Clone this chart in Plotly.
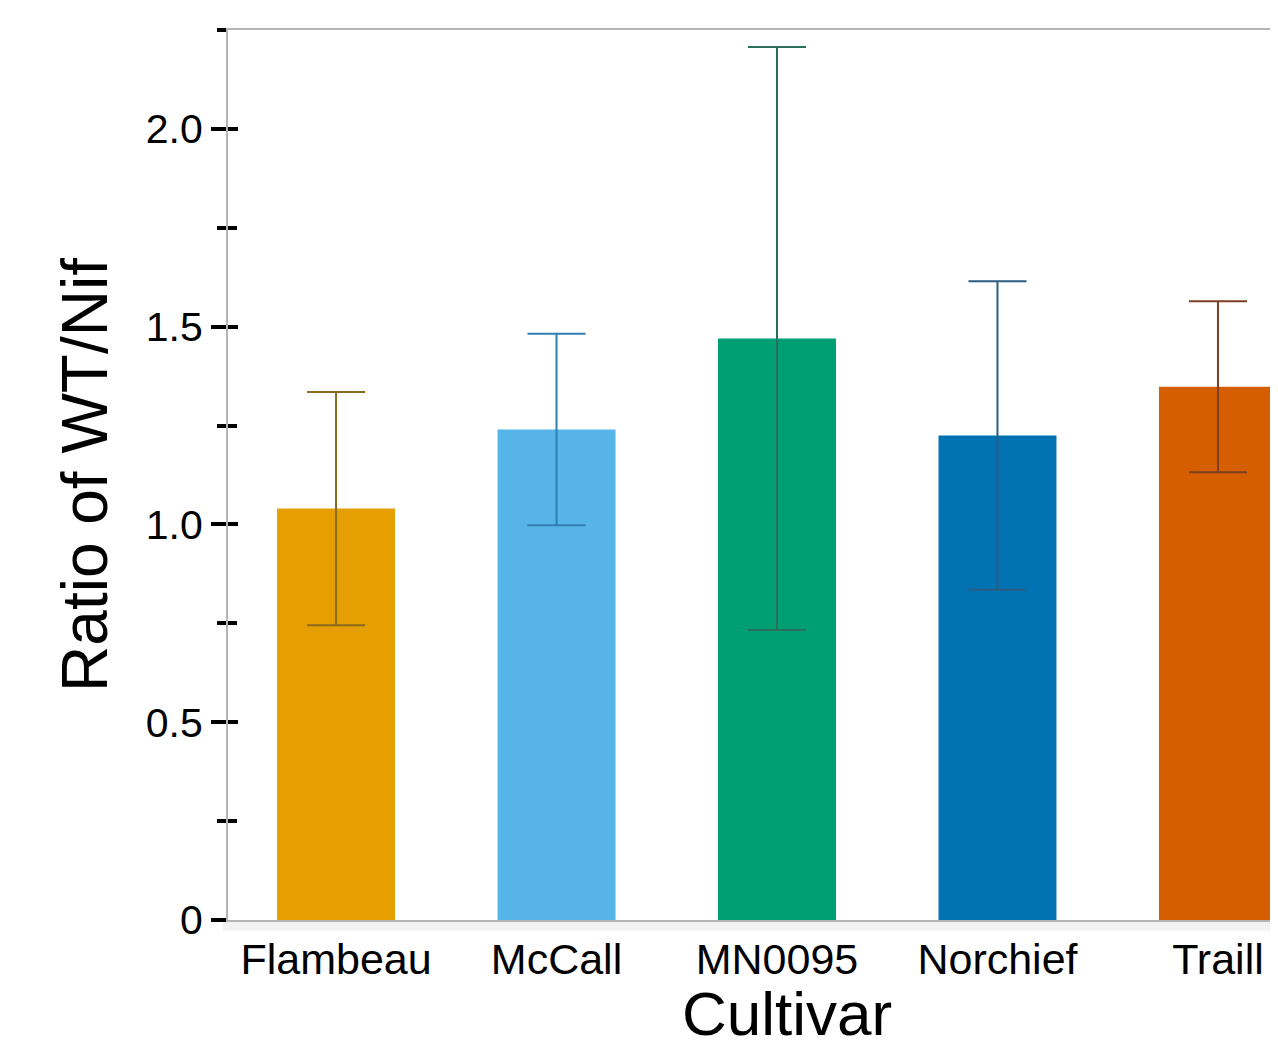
import plotly.graph_objects as go

cultivars = ["Flambeau", "McCall", "MN0095", "Norchief", "Traill"]
ratios = [1.04, 1.24, 1.47, 1.225, 1.348]
errors = [0.295, 0.242, 0.737, 0.39, 0.216]
bar_colors = ["#E69F00", "#56B4E9", "#009E73", "#0072B2", "#D55E00"]
err_colors = ["#8a6a1e", "#2f7fb0", "#2a6e5e", "#2b5d80", "#7a4020"]
y_tickvals = [0, 0.5, 1.0, 1.5, 2.0]
y_ticktext = ["0", "0.5", "1.0", "1.5", "2.0"]

FONT = "Liberation Sans, Arial, sans-serif"
YRANGE = [0, 2.25]

fig = go.Figure()
for c, v, e, bc, ec in zip(cultivars, ratios, errors, bar_colors, err_colors):
    fig.add_trace(go.Bar(
        x=[c], y=[v], width=0.535, marker=dict(color=bc, line=dict(width=0)),
        error_y=dict(type="data", array=[e], visible=True, color=ec, thickness=2, width=29),
        showlegend=False,
    ))

# invisible trace to anchor the inside-tick overlay axis
fig.add_trace(go.Scatter(x=[cultivars[0]], y=[0], yaxis="y2", mode="markers",
                         marker=dict(opacity=0), showlegend=False, hoverinfo="skip"))

fig.update_layout(
    width=1262, height=1031,
    margin=dict(l=220, r=0, t=22, b=119),
    plot_bgcolor="white", paper_bgcolor="white",
    font=dict(family=FONT, color="black"),
    xaxis=dict(
        categoryorder="array", categoryarray=cultivars,
        range=[-0.49, 4.236],
        showline=True, linecolor="#b4b4b4", linewidth=2, mirror=True,
        ticks="", tickfont=dict(size=43, family=FONT, color="black"),
        showgrid=False, zeroline=False,
    ),
    yaxis=dict(
        range=YRANGE, tickvals=y_tickvals, ticktext=y_ticktext,
        showline=True, linecolor="#b4b4b4", linewidth=2,
        ticks="outside", ticklen=15, tickwidth=4, tickcolor="black",
        minor=dict(dtick=0.25, tick0=0, ticks="outside", ticklen=9, tickwidth=4, tickcolor="black"),
        tickfont=dict(size=41, family=FONT, color="black"),
        showgrid=False, zeroline=False,
        title=dict(text="Ratio of WT/Nif", font=dict(size=64, family=FONT, color="black"), standoff=17),
    ),
    yaxis2=dict(
        range=YRANGE, overlaying="y", side="left", anchor="x",
        tickvals=y_tickvals, showticklabels=False,
        ticks="inside", ticklen=10, tickwidth=4, tickcolor="black",
        minor=dict(dtick=0.25, tick0=0, ticks="inside", ticklen=9, tickwidth=4, tickcolor="black"),
        showgrid=False, zeroline=False, showline=False,
    ),
    annotations=[dict(
        text="Cultivar", xref="paper", yref="paper", x=0.5365, y=-0.064,
        xanchor="center", yanchor="top", showarrow=False,
        font=dict(size=62, family=FONT, color="black"),
    )],
    shapes=[dict(type="rect", xref="paper", yref="paper", x0=-0.005, x1=1, y0=-0.012, y1=-0.002,
                 fillcolor="#f2f2f2", line=dict(width=0), layer="below")],
)

fig.write_html("out.html")
